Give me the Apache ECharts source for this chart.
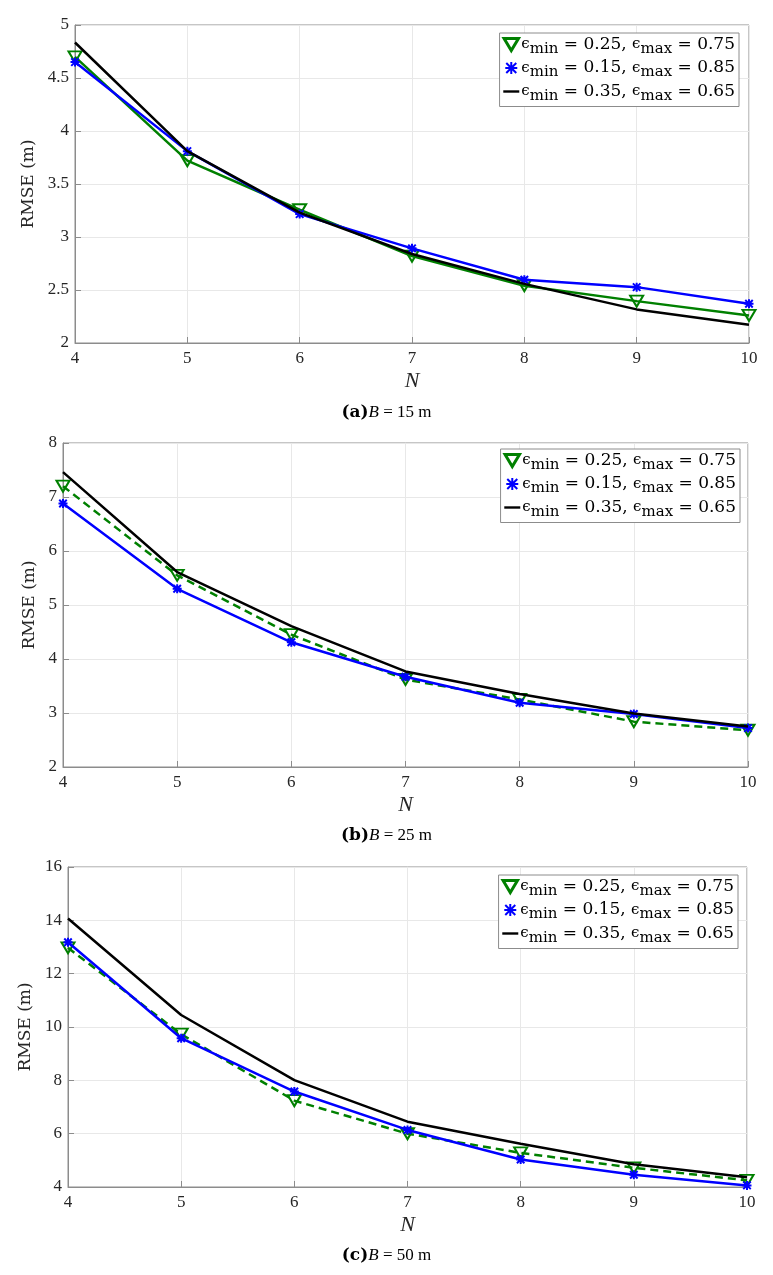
<!DOCTYPE html>
<html>
<head>
<meta charset="utf-8">
<script src="https://cdn.jsdelivr.net/npm/echarts@6/dist/echarts.min.js"></script>
<style>
html,body{margin:0;padding:0;background:#fff;}
#chart{width:773px;height:1275px;}
</style>
</head>
<body>
<div id="chart"></div>
<script>
// ---- data ----
const N = [4, 5, 6, 7, 8, 9, 10];
const seriesNames = ['e025', 'e015', 'e035'];
const legendLabels = [
  ['0.25', '0.75'],
  ['0.15', '0.85'],
  ['0.35', '0.65']
];
// panel (a) B = 15 m
const aGreen = [4.70, 3.72, 3.257, 2.82, 2.54, 2.395, 2.26];
const aBlue  = [4.65, 3.81, 3.216, 2.893, 2.596, 2.527, 2.37];
const aBlack = [4.835, 3.81, 3.23, 2.84, 2.558, 2.317, 2.172];
// panel (b) B = 25 m
const bGreen = [7.20, 5.55, 4.45, 3.62, 3.25, 2.84, 2.68];
const bBlue  = [6.88, 5.30, 4.31, 3.67, 3.19, 2.98, 2.72];
const bBlack = [7.46, 5.61, 4.61, 3.77, 3.35, 2.99, 2.75];
// panel (c) B = 50 m
const cGreen = [12.97, 9.73, 7.24, 6.00, 5.28, 4.72, 4.25];
const cBlue  = [13.18, 9.58, 7.58, 6.14, 5.03, 4.46, 4.06];
const cBlack = [14.07, 10.45, 8.01, 6.45, 5.62, 4.85, 4.37];
// axes
const yRanges = [[2, 5, 0.5], [2, 8, 1], [4, 16, 2]];
const captions = [['(a)', '15'], ['(b)', '25'], ['(c)', '50']];

// ---- layout ----
const grids = [
  {left: 75, top: 25, width: 674, height: 318},
  {left: 63, top: 443, width: 685, height: 324},
  {left: 68, top: 867, width: 679, height: 320}
];
const legendPos = [{right: 34, top: 33}, {right: 33, top: 449}, {right: 35, top: 875}];
const captionTop = [399, 822, 1242];

const GREEN = '#008000', BLUE = '#0000ff', BLACK = '#000000';
const starPath = 'path://M0,0L10,10M10,0L0,10M5,-1L5,11M-1,5L11,5';
const triPath = 'path://M0,0L12,0L6,10Z';
const tickFont = 'Liberation Serif';
const panelData = [[aGreen, aBlue, aBlack], [bGreen, bBlue, bBlack], [cGreen, cBlue, cBlack]];

const xAxes = [], yAxes = [], series = [], legends = [], titles = [];
for (let p = 0; p < 3; p++) {
  xAxes.push({
    type: 'value', gridIndex: p, min: 4, max: 10, interval: 1,
    name: 'N', nameLocation: 'middle', nameGap: 27,
    nameTextStyle: {fontFamily: 'Liberation Serif', fontStyle: 'italic', fontSize: 22, color: '#262626'},
    axisLine: {show: true, lineStyle: {color: '#8c8c8c', width: 1}},
    axisTick: {show: true, inside: true, length: 6, lineStyle: {color: '#8c8c8c'}},
    axisLabel: {fontFamily: tickFont, fontSize: 17, color: '#262626', margin: 7},
    splitLine: {show: true, lineStyle: {color: '#e8e8e8', width: 1}}
  });
  yAxes.push({
    type: 'value', gridIndex: p, min: yRanges[p][0], max: yRanges[p][1], interval: yRanges[p][2],
    name: 'RMSE (m)', nameLocation: 'middle', nameGap: p === 0 ? 35 : (p === 1 ? 23 : 28),
    nameTextStyle: {fontFamily: 'DejaVu Serif', fontSize: 17, color: '#262626'},
    axisLine: {show: true, lineStyle: {color: '#8c8c8c', width: 1}},
    axisTick: {show: true, inside: true, length: 6, lineStyle: {color: '#8c8c8c'}},
    axisLabel: {fontFamily: tickFont, fontSize: 17, color: '#262626', margin: 6},
    splitLine: {show: true, lineStyle: {color: '#e8e8e8', width: 1}}
  });
  const d = panelData[p];
  const dashed = p > 0;
  series.push({
    name: seriesNames[0], type: 'line', xAxisIndex: p, yAxisIndex: p,
    data: N.map((n, i) => [n, d[0][i]]),
    symbol: triPath, symbolSize: [13, 11], symbolKeepAspect: false,
    lineStyle: {color: GREEN, width: 2.5, type: dashed ? [8, 5] : 'solid'},
    itemStyle: {color: 'rgba(0,0,0,0)', borderColor: GREEN, borderWidth: 2},
    z: 2, animation: false
  });
  series.push({
    name: seriesNames[1], type: 'line', xAxisIndex: p, yAxisIndex: p,
    data: N.map((n, i) => [n, d[1][i]]),
    symbol: starPath, symbolSize: 9,
    lineStyle: {color: BLUE, width: 2.5},
    itemStyle: {color: 'rgba(0,0,0,0)', borderColor: BLUE, borderWidth: 2},
    z: 3, animation: false
  });
  series.push({
    name: seriesNames[2], type: 'line', xAxisIndex: p, yAxisIndex: p,
    data: N.map((n, i) => [n, d[2][i]]),
    symbol: 'none',
    lineStyle: {color: BLACK, width: 2.5},
    itemStyle: {color: BLACK},
    z: 4, animation: false
  });
  legends.push(Object.assign({
    orient: 'vertical', show: true, selectedMode: false,
    backgroundColor: '#ffffff', borderColor: '#8c8c8c', borderWidth: 1,
    padding: [3, 4, 3, 3], itemGap: 3, itemWidth: 16, itemHeight: 12,
    data: [
      {name: seriesNames[0], icon: 'path://M0,0L12,0L6,10Z',
       itemStyle: {color: 'rgba(0,0,0,0)', borderColor: GREEN, borderWidth: 3}},
      {name: seriesNames[1], icon: starPath,
       itemStyle: {color: 'rgba(0,0,0,0)', borderColor: BLUE, borderWidth: 2}},
      {name: seriesNames[2], icon: 'path://M0,0L20,0L20,3L0,3Z',
       itemStyle: {color: BLACK, borderColor: BLACK, borderWidth: 0}}
    ],
    formatter: function (name) {
      const k = seriesNames.indexOf(name);
      const v = legendLabels[k];
      return '{e|ϵ}{s|min}{t| = ' + v[0] + ', }{e|ϵ}{s|max}{t| = ' + v[1] + '}';
    },
    textStyle: {
      fontFamily: 'DejaVu Serif', fontSize: 17, color: '#000', padding: [0, 0, 0, -3],
      rich: {
        e: {fontFamily: 'DejaVu Serif', fontSize: 15, color: '#000'},
        s: {fontFamily: 'DejaVu Serif', fontSize: 15, color: '#000', padding: [9, 0, 0, 0]},
        t: {fontFamily: 'DejaVu Serif', fontSize: 17, color: '#000'}
      }
    }
  }, legendPos[p]));
  titles.push({
    left: 'center', top: captionTop[p],
    text: '{b|' + captions[p][0] + '}{i|B}{r| = ' + captions[p][1] + ' m}',
    textStyle: {
      fontWeight: 'normal',
      rich: {
        b: {fontFamily: 'DejaVu Serif', fontWeight: 'bold', fontSize: 17, color: '#000'},
        i: {fontFamily: 'Liberation Serif', fontStyle: 'italic', fontWeight: 'normal', fontSize: 17, color: '#000'},
        r: {fontFamily: 'Liberation Serif', fontWeight: 'normal', fontSize: 17, color: '#000'}
      }
    }
  });
}

const chart = echarts.init(document.getElementById('chart'), null, {renderer: 'canvas'});
chart.setOption({
  animation: false,
  backgroundColor: '#ffffff',
  title: titles,
  legend: legends,
  grid: grids.map(g => Object.assign({show: true, borderColor: '#8c8c8c', borderWidth: 1, backgroundColor: 'transparent'}, g)),
  xAxis: xAxes,
  yAxis: yAxes,
  series: series
});
</script>
</body>
</html>
